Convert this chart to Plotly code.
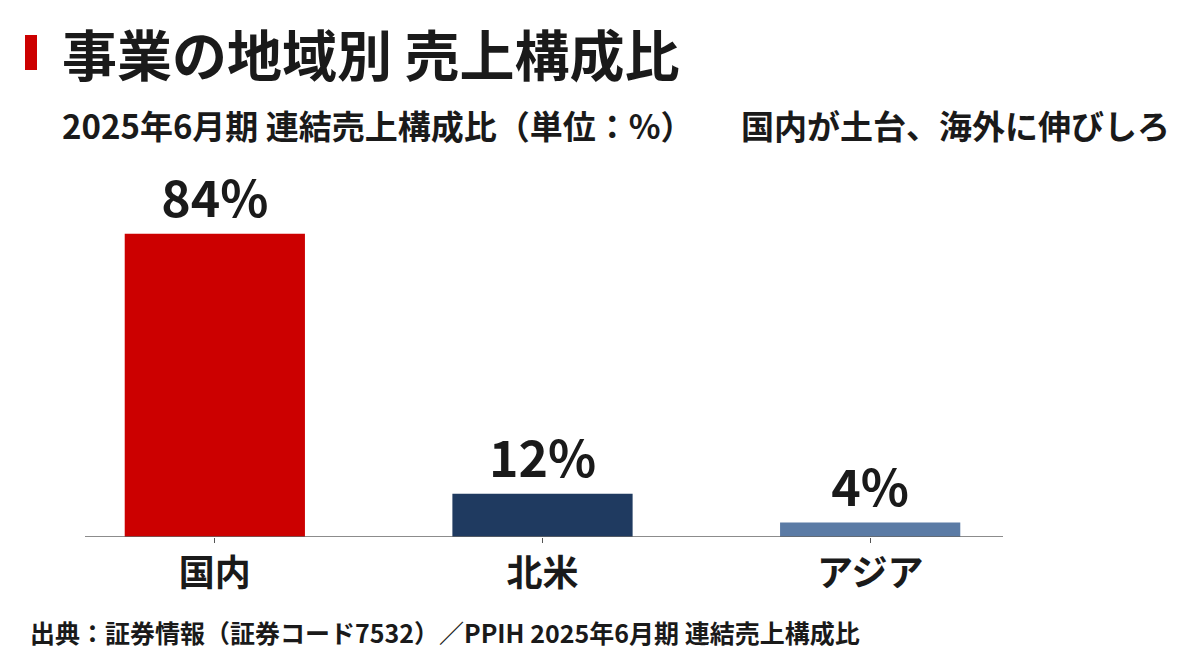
import plotly.graph_objects as go

categories = ["国内", "北米", "アジア"]
values = [84, 12, 4]
bar_colors = ["#CC0000", "#1F3A60", "#5B7BA5"]
value_labels = ["84%", "12%", "4%"]

title_text = "事業の地域別 売上構成比"
subtitle_left = "2025年6月期 連結売上構成比（単位：%）"
subtitle_right = "国内が土台、海外に伸びしろ"
source_text = "出典：証券情報（証券コード7532）／PPIH 2025年6月期 連結売上構成比"

FONT = "Noto Sans CJK JP"
TXT = "#1a1a1a"

fig = go.Figure()
fig.add_trace(go.Bar(
    x=categories, y=values,
    marker=dict(color=bar_colors, line=dict(width=0)),
    width=0.55,
    text=value_labels, textposition="outside",
    textfont=dict(family=FONT, size=50, color=TXT),
    cliponaxis=False,
    hoverinfo="skip",
))

W, H = 1200, 671
left, right = 51, 1034
top, bottom = 176, 537

fig.update_layout(
    width=W, height=H,
    margin=dict(l=left, r=W - right, t=top, b=H - bottom, pad=0),
    paper_bgcolor="white", plot_bgcolor="white",
    showlegend=False,
    font=dict(family=FONT, color=TXT),
    xaxis=dict(
        range=[-0.5, 2.5], showgrid=False, showline=False, zeroline=False,
        ticks="outside", ticklen=5, tickcolor="#555555", tickwidth=1,
        tickfont=dict(family=FONT, size=36, color=TXT),
    ),
    yaxis=dict(range=[0, 100], visible=False),
    bargap=0.45,
)

# baseline
fig.add_shape(type="line", xref="paper", yref="y",
              x0=(85 - left) / (right - left), x1=(1003 - left) / (right - left),
              y0=0, y1=0, line=dict(color="#666666", width=1.5))

# red accent bar next to title
fig.add_shape(type="rect", xref="paper", yref="paper",
              x0=(25 - left) / (right - left), x1=(37 - left) / (right - left),
              y0=(bottom - 70) / (bottom - top), y1=(bottom - 35) / (bottom - top),
              fillcolor="#CC0000", line=dict(width=0))

def px(xp, yp):
    return (xp - left) / (right - left), (bottom - yp) / (bottom - top)

annots = [
    (title_text, 60, 52, 55, "left"),
    (subtitle_left, 60, 125, 33, "left"),
    (subtitle_right, 1172, 125, 33, "right"),
    (source_text, 28, 632, 25, "left"),
]
for txt, xp, yp, size, anchor in annots:
    ax, ay = px(xp, yp)
    fig.add_annotation(text="<b>" + txt + "</b>", x=ax, y=ay, xref="paper", yref="paper",
                       xanchor=anchor, yanchor="middle", showarrow=False,
                       font=dict(family=FONT, size=size, color=TXT))

fig.update_traces(texttemplate="<b>%{text}</b>")
fig.update_xaxes(ticktext=["<b>" + c + "</b>" for c in categories], tickvals=categories)

fig.write_html("out.html")
